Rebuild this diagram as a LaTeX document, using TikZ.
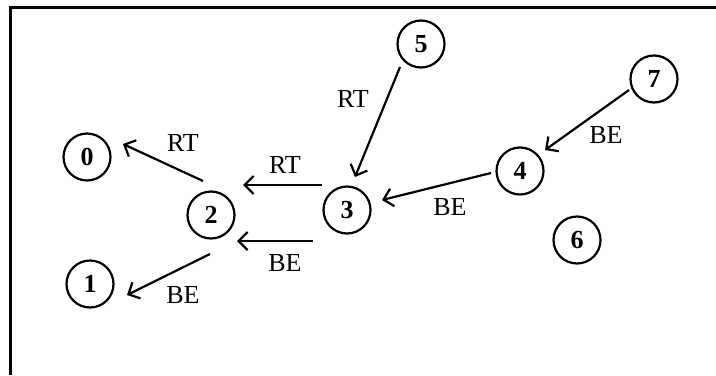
\documentclass[tikz,border=0pt]{standalone}
\usepackage{fontspec}
\setmainfont{Liberation Serif}
\usetikzlibrary{arrows.meta,calc}
\begin{document}
\begin{tikzpicture}[x=0.5pt,y=-0.5pt,
  stnode/.style={draw,line width=1.1pt,circle,minimum size=23.5pt,inner sep=0pt,font=\fontsize{13}{14}\selectfont\bfseries},
  edge/.style={line width=1.1pt,-{Straight Barb[length=4.5pt,width=9pt]}},
  lbl/.style={font=\fontsize{13}{14}\selectfont,inner sep=0pt}]
\useasboundingbox (0,0) rectangle (716,375);
\coordinate (fa) at (716,7);
\coordinate (fb) at (10,7);
\coordinate (fc) at (10,375);
\draw[line width=1.5pt] (fa) -- (fb) -- (fc);
\node[stnode] (n0) at (87,157) {0};
\node[stnode] (n1) at (90,284) {1};
\node[stnode] (n2) at (211,215) {2};
\node[stnode] (n3) at (347,210) {3};
\node[stnode] (n4) at (520,171) {4};
\node[stnode] (n5) at (421,44) {5};
\node[stnode] (n6) at (577,240) {6};
\node[stnode] (n7) at (654,79) {7};
\draw[edge] ($(n2)+(-8,-34)$) -- ($(n0)+(36,-13)$);
\draw[edge] ($(n2)+(-1,39)$) -- ($(n1)+(37,11)$);
\draw[edge] ($(n3)+(-25,-25)$) -- ($(n2)+(32,-30)$);
\draw[edge] ($(n3)+(-34,31)$) -- ($(n2)+(26,26)$);
\draw[edge] ($(n5)+(-21,23)$) -- ($(n3)+(8,-33)$);
\draw[edge] ($(n4)+(-29,2)$) -- ($(n3)+(35,-10)$);
\draw[edge] ($(n7)+(-25,11)$) -- ($(n4)+(25,-21)$);
\node[lbl] (l20) at (183,143) {RT};
\node[lbl] (l21) at (183,295) {BE};
\node[lbl] (l32a) at (285,165) {RT};
\node[lbl] (l32b) at (285,263) {BE};
\node[lbl] (l53) at (353,99) {RT};
\node[lbl] (l43) at (450,207) {BE};
\node[lbl] (l74) at (606,135) {BE};
\end{tikzpicture}
\end{document}
